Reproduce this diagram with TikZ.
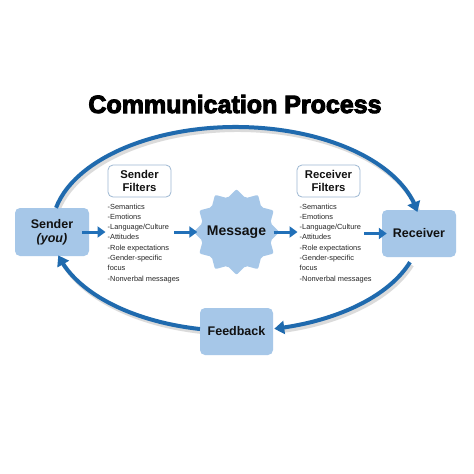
\documentclass[tikz,border=0pt]{standalone}
\usepackage{fontspec}
\setmainfont{Liberation Sans}
\newfontfamily\titlefont[FakeBold=4]{Liberation Sans Bold}
\usetikzlibrary{arrows.meta,bending,shapes.geometric}
\definecolor{lightfill}{HTML}{A6C7E8}
\definecolor{arrowblue}{HTML}{2170B8}
\definecolor{ringblue}{HTML}{1F6AAE}
\definecolor{filterline}{HTML}{9DB8D2}
\definecolor{shadowgray}{HTML}{BFBFBF}
\definecolor{inktext}{HTML}{111111}
\begin{document}
\begin{tikzpicture}[x=1pt,y=-1pt,
  bluebox/.style={draw=none, fill=lightfill, rounded corners=5pt, minimum width=74pt, minimum height=48pt, inner sep=0pt, font=\bfseries\fontsize{12.5}{14}\selectfont, align=center, text=inktext},
  filterbox/.style={draw=filterline, line width=0.8pt, fill=white, rounded corners=5pt, minimum width=63pt, minimum height=32pt, inner sep=0pt, font=\bfseries\fontsize{11.3}{13}\selectfont, align=center, text=inktext},
  listtext/.style={anchor=north west, inner sep=0pt, align=left, font=\fontsize{7.4}{10.3}\selectfont, text=black!85},
  flow/.style={draw=arrowblue, line width=3pt, -{Triangle[length=8pt,width=11pt]}},
  ring/.style={draw=ringblue, line width=4pt, -{Triangle[length=10pt,width=13pt]}},
  ringshadow/.style={draw=shadowgray, line width=4pt, opacity=0.55},
  burst/.style={fill=lightfill, rounded corners=2pt},
]
\useasboundingbox[fill=white] (0,0) rectangle (474,474);

% title
\node[font=\titlefont\fontsize{25}{30}\selectfont, anchor=base, text=black, inner sep=0pt] (title) at (235,113) {Communication Process};

% ring coordinates
\coordinate (r1) at ({236+184*cos(192)},{229+102*sin(192)});
\coordinate (r2) at ({236+184*cos(19)},{229+102*sin(19)});
\coordinate (r3) at ({236+184*cos(101.3)},{229+102*sin(101.3)});

% ring shadow
\begin{scope}[shift={(2,3)}]
\coordinate (s1) at ({236+184*cos(192)},{229+102*sin(192)});
\coordinate (s2) at ({236+184*cos(19)},{229+102*sin(19)});
\coordinate (s3) at ({236+184*cos(101.3)},{229+102*sin(101.3)});
\draw[ringshadow] (s1) arc[start angle=192,end angle=348,x radius=184,y radius=102];
\draw[ringshadow] (s2) arc[start angle=19,end angle=76,x radius=184,y radius=102];
\draw[ringshadow] (s3) arc[start angle=101.3,end angle=163,x radius=184,y radius=102];
\end{scope}

% nodes
\node[bluebox] (sender) at (52,232) {Sender\\\textit{(you)}};
\node[bluebox, minimum height=47pt] (receiver) at (419,233.5) {Receiver};
\node[bluebox, minimum width=73pt, minimum height=47pt] (feedback) at (236.5,331.5) {Feedback};
\node[filterbox] (sfilt) at (139.5,181) {Sender\\Filters};
\node[filterbox] (rfilt) at (328.5,181) {Receiver\\Filters};
\node[listtext] (slist) at (107.5,203.5) {-Semantics\\-Emotions\\-Language/Culture\\-Attitudes\\-Role expectations\\-Gender-specific\\focus\\-Nonverbal messages};
\node[listtext] (rlist) at (299.5,203.5) {-Semantics\\-Emotions\\-Language/Culture\\-Attitudes\\-Role expectations\\-Gender-specific\\focus\\-Nonverbal messages};

% message starburst
\node[circle, minimum size=80pt, inner sep=0pt] (message) at (236.5,232) {};
\begin{scope}[shift={(message.center)}]
\fill[burst] plot[samples at={90,105,...,435}] ({(39+4*cos(12*(\x-90)))*cos(\x)},{-(39+4*cos(12*(\x-90)))*sin(\x)}) -- cycle;
\end{scope}
\node[font=\bfseries\fontsize{14}{16}\selectfont, text=inktext, inner sep=0pt] (msgtext) at (message.center) {Message};

% ring
\draw[ring] (r1) arc[start angle=192,end angle=350.4,x radius=184,y radius=102];
\draw[ring] (r2) arc[start angle=19,end angle=78,x radius=184,y radius=102];
\draw[ring] (r3) arc[start angle=101.3,end angle=165,x radius=184,y radius=102];

% flow arrows
\draw[flow] ([xshift=-7pt]sender.east) -- ([xshift=-2pt]slist.west |- sender.east);
\draw[flow] ([xshift=66.5pt]slist.west |- message.west) -- ([xshift=1pt]message.west);
\draw[flow] ([xshift=-3pt]message.east) -- ([xshift=-2pt]rlist.west |- message.east);
\draw[flow] ([xshift=64.5pt]rlist.west |- receiver.west) -- ([xshift=5pt]receiver.west);
\end{tikzpicture}
\end{document}
